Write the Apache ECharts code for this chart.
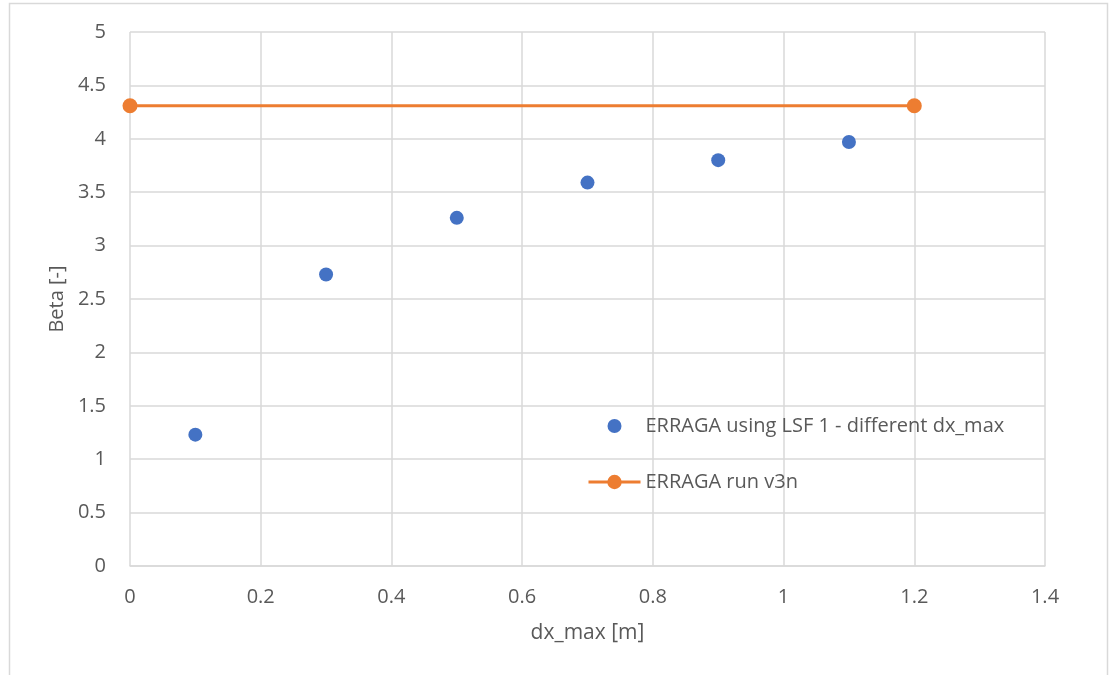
<!DOCTYPE html>
<html>
<head>
<meta charset="utf-8">
<script src="https://cdn.jsdelivr.net/npm/echarts@6/dist/echarts.min.js"></script>
<style>
  html, body { margin: 0; padding: 0; background: #fff; }
  #chart { width: 1114px; height: 675px; }
</style>
</head>
<body>
<div id="chart"></div>
<script>
// dx_max values and Beta results
const dxMax = [0.1, 0.3, 0.5, 0.7, 0.9, 1.1];
const betaLsf = [1.23, 2.73, 3.26, 3.59, 3.80, 3.97];
const runX = [0, 1.2];
const runBeta = [4.31, 4.31];

const scatterName = 'ERRAGA using LSF 1 - different dx_max';
const lineName = 'ERRAGA run v3n';

const txt = '#595959';
const gridCol = '#d9d9d9';
const font = '"Open Sans", "Liberation Sans", sans-serif';

// circle with some empty room around it, so the legend dot stays ~14px
const smallDot = 'path://M0,0 M18,18 M9,2 A7,7 0 1,1 9,16 A7,7 0 1,1 9,2 Z';

const chart = echarts.init(document.getElementById('chart'));
chart.setOption({
  animation: false,
  textStyle: { fontFamily: font },
  graphic: [{
    type: 'rect',
    shape: { x: 9.5, y: 3.5, width: 1098, height: 720 },
    style: { fill: 'none', stroke: gridCol, lineWidth: 1.5 },
    silent: true
  }],
  grid: { left: 130, right: 69, top: 32, bottom: 109 },
  legend: {
    orient: 'vertical',
    left: 582,
    top: 411,
    itemGap: 36,
    itemWidth: 52,
    itemHeight: 18,
    textStyle: { color: txt, fontSize: 20, fontFamily: font },
    data: [
      { name: scatterName, icon: smallDot, itemStyle: { color: '#4472c4', opacity: 1 } },
      { name: lineName, lineStyle: { width: 3, color: '#ed7d31' }, itemStyle: { color: '#ed7d31' } }
    ]
  },
  xAxis: {
    type: 'value',
    min: 0, max: 1.4, interval: 0.2,
    name: 'dx_max [m]',
    nameLocation: 'middle',
    nameGap: 57,
    nameTextStyle: { color: txt, fontSize: 21, fontFamily: font },
    axisLine: { show: true, lineStyle: { color: gridCol, width: 1.5 } },
    axisTick: { show: false },
    axisLabel: { color: txt, fontSize: 20, margin: 21, fontFamily: font },
    splitLine: { show: true, lineStyle: { color: gridCol, width: 1.5 } }
  },
  yAxis: {
    type: 'value',
    min: 0, max: 5, interval: 0.5,
    name: 'Beta [-]',
    nameLocation: 'middle',
    nameGap: 62,
    nameTextStyle: { color: txt, fontSize: 20, fontFamily: font },
    axisLine: { show: false },
    axisTick: { show: false },
    axisLabel: { color: txt, fontSize: 20, margin: 24, fontFamily: font },
    splitLine: { show: true, lineStyle: { color: gridCol, width: 1.5 } }
  },
  series: [
    {
      name: scatterName,
      type: 'scatter',
      symbol: 'circle',
      symbolSize: 14,
      itemStyle: { color: '#4472c4', opacity: 1 },
      data: dxMax.map((x, i) => [x, betaLsf[i]])
    },
    {
      name: lineName,
      type: 'line',
      symbol: 'circle',
      symbolSize: 15,
      showAllSymbol: true,
      lineStyle: { color: '#ed7d31', width: 3 },
      itemStyle: { color: '#ed7d31' },
      data: runX.map((x, i) => [x, runBeta[i]])
    }
  ]
});
</script>
</body>
</html>
